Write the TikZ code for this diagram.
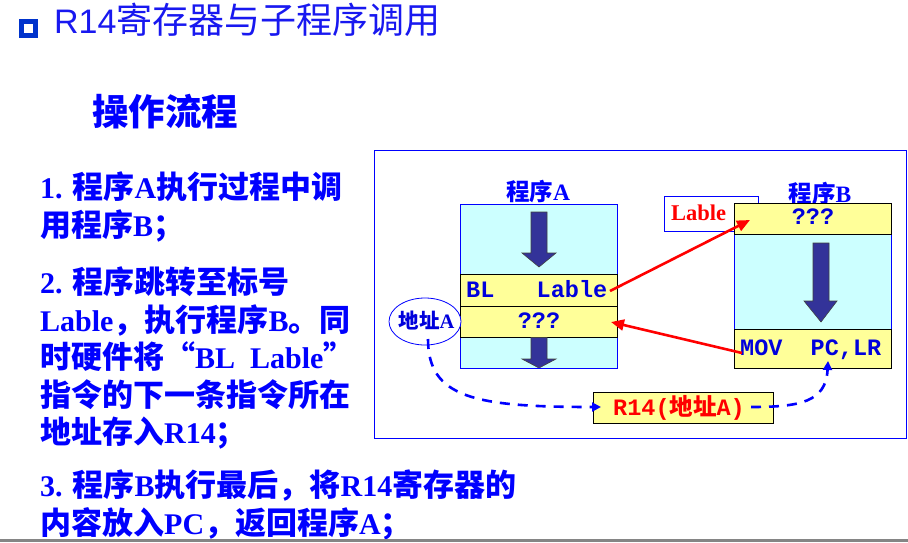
\documentclass[tikz,border=0pt]{standalone}
\usepackage{fontspec}
\setmainfont{Liberation Serif}
\newfontfamily\cjkfont{Noto Sans CJK SC}
\newfontfamily\arialfont{Liberation Sans}
\newfontfamily\courfont{Liberation Mono}
\usetikzlibrary{arrows.meta,shapes.geometric,calc}

\definecolor{txtblue}{RGB}{0,0,255}
\definecolor{titleblue}{RGB}{24,24,240}
\definecolor{bulletblue}{RGB}{0,51,204}
\definecolor{boxcyan}{RGB}{204,255,255}
\definecolor{rowyellow}{RGB}{255,255,153}
\definecolor{flowfill}{RGB}{51,51,153}
\definecolor{monoblue}{RGB}{0,0,220}

% CJK run inside mixed text
\newcommand{\zb}[1]{{\cjkfont\fontsize{31}{36}\selectfont #1}}
\newcommand{\zs}[1]{{\cjkfont #1}}

\tikzset{
  bodytext/.style={anchor=base west, inner sep=0pt, text=txtblue,
    font=\fontsize{30}{36}\selectfont\bfseries},
  progbox/.style={draw=txtblue, line width=0.8pt, fill=boxcyan, inner sep=0pt},
  instrrow/.style={draw=black, line width=0.8pt, fill=rowyellow, inner sep=0pt},
  monotext/.style={inner sep=0pt, text=monoblue,
    font=\courfont\fontsize{23.5}{25}\selectfont\bfseries},
  caption/.style={inner sep=0pt, text=txtblue, anchor=base,
    font=\fontsize{23.5}{26}\selectfont\bfseries},
  blockarrow/.style={fill=flowfill, draw=black!75, line width=0.6pt, line join=miter},
  jumparrow/.style={draw=red, line width=2.6pt,
    -{Triangle[length=13pt,width=11pt]}},
  linkarrow/.style={draw=txtblue, line width=2.6pt, dash pattern=on 10pt off 8pt,
    -{Triangle[length=9pt,width=9pt]}},
}

\begin{document}
\begin{tikzpicture}[x=1pt,y=-1pt]
\useasboundingbox (0,0) rectangle (908,542);
\fill[white] (0,0) rectangle (908,542);

% ---- title ----
\node[draw=bulletblue, line width=5pt, minimum size=13.5pt, inner sep=0pt] (bullet) at (28.5,28.5) {};
\node[anchor=base west, inner sep=0pt, text=titleblue] (title) at (54,33)
  {\arialfont\fontsize{34}{36}\selectfont R14\cjkfont\fontsize{36}{36}\selectfont 寄存器与子程序调用};

% ---- heading ----
\node[anchor=base west, inner sep=0pt, text=txtblue,
  font=\cjkfont\fontsize{36.5}{38}\selectfont\bfseries] (heading) at (92,125.5) {操作流程};

% ---- step list ----
\node[bodytext] (s1a) at (40,198) {1. \zb{程序}A\zb{执行过程中调}};
\node[bodytext] (s1b) at (40,236) {\zb{用程序}B\zb{；}};
\node[bodytext] (s2a) at (40,293) {2. \zb{程序跳转至标号}};
\node[bodytext] (s2b) at (40,331) {Lable\zb{，执行程序}B\zb{。同}};
\node[bodytext] (s2c) at (40,368) {\zb{时硬件将“}BL\ \ Lable\zb{”}};
\node[bodytext] (s2d) at (40,406) {\zb{指令的下一条指令所在}};
\node[bodytext] (s2e) at (40,443) {\zb{地址存入}R14\zb{；}};
\node[bodytext] (s3a) at (40,496) {3. \zb{程序}B\zb{执行最后，将}R14\zb{寄存器的}};
\node[bodytext] (s3b) at (40,534) {\zb{内容放入}PC\zb{，返回程序}A\zb{；}};

% ---- diagram frame ----
\node[draw=txtblue, line width=0.9pt, minimum width=532pt, minimum height=288pt,
  inner sep=0pt] (frame) at (640,294) {};

% ---- label box partly hidden behind program B ----
\node[draw=txtblue, line width=0.9pt, fill=white, minimum width=94pt, minimum height=35pt,
  inner sep=0pt] (lblbox) at (711,213.5) {};
\node[inner sep=0pt, text=red, anchor=base, font=\fontsize{22.5}{24}\selectfont\bfseries]
  (lbltext) at (698.5,220.5) {Lable};

% ---- program A ----
\node[caption] (capA) at (538,200) {\zs{程序}A};
\node[progbox, minimum width=156.6pt, minimum height=164pt] (progA) at (539,286) {};
\node[instrrow, minimum width=156.6pt, minimum height=32pt] (rowBL) at (539,290) {};
\node[instrrow, minimum width=156.6pt, minimum height=31pt] (rowRet) at (539,321.5) {};
\node[monotext, anchor=base west] (txtBL) at (466,297.5) {BL\ \ \ Lable};
\node[monotext, anchor=base] (txtRet) at (539,328.5) {???};
\filldraw[blockarrow] (531,212) -- (547,212) -- (547,253) -- (556,253) -- (539,267)
  -- (522,253) -- (531,253) -- cycle;
\filldraw[blockarrow] (531,337.5) -- (547,337.5) -- (547,359) -- (556,359) -- (539,368)
  -- (522,359) -- (531,359) -- cycle;
\draw[draw=txtblue, line width=0.8pt] (progA.south west) -- (progA.south east);

% ---- program B ----
\node[caption] (capB) at (820,202) {\zs{程序}B};
\node[progbox, minimum width=157pt, minimum height=164.5pt] (progB) at (812.5,285.75) {};
\node[instrrow, minimum width=157pt, minimum height=30.5pt] (rowEntry) at (812.5,218.75) {};
\node[instrrow, minimum width=157pt, minimum height=39pt] (rowMov) at (812.5,348.5) {};
\node[monotext, anchor=base] (txtEntry) at (813,224.5) {???};
\node[monotext, anchor=base west] (txtMov) at (740,355.5) {MOV\ \ PC,LR};
\filldraw[blockarrow] (813,243) -- (829,243) -- (829,301) -- (837,301) -- (821,322)
  -- (804,301) -- (813,301) -- cycle;

% ---- saved return address ----
\node[draw=txtblue, line width=0.8pt, fill=white, ellipse, minimum width=72pt,
  minimum height=47pt, inner sep=0pt] (addrA) at (425,321.5) {};
\node[inner sep=0pt, text=monoblue, anchor=base, font=\fontsize{20.5}{22}\selectfont\bfseries]
  (addrtxt) at (426.5,328.5) {\zs{地址}A};
\node[instrrow, minimum width=180pt, minimum height=31pt] (r14) at (683,407.5) {};
\node[inner sep=0pt, text=red, anchor=base west,
  font=\courfont\fontsize{23.5}{25}\selectfont\bfseries] (r14txt) at (613,415.5) {R14(\zs{地址}A)};

% ---- connector end points ----
\coordinate (blEnd) at (610,291);
\coordinate (entryPt) at (750,220);
\coordinate (movStart) at (742,353);
\coordinate (retPt) at (611,322);
\coordinate (addrOut) at (428,339);
\coordinate (r14In) at (601,407);
\coordinate (r14Out) at (751,407);
\coordinate (pcIn) at (828,361);

% ---- jump and return ----
\draw[jumparrow] (blEnd) -- (entryPt);
\draw[jumparrow] (movStart) -- (retPt);

% ---- link register path ----
\draw[linkarrow] (addrOut) .. controls (428,398) and (475,407) .. (r14In);
\draw[linkarrow] (r14Out) .. controls (800,407) and (826,402) .. (pcIn);

% ---- bottom rule ----
\fill[black!48] (0,538.5) rectangle (908,542);
\end{tikzpicture}
\end{document}
